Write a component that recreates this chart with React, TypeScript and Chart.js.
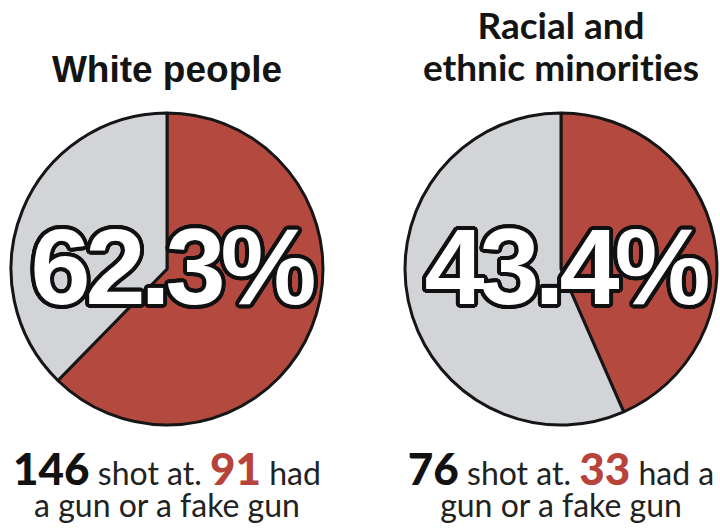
import React, { useEffect, useRef } from 'react';
import { Chart, registerables } from 'chart.js';

Chart.register(...registerables);

// ---- data ----
const groupTitles = ['White people', 'Racial and\nethnic minorities'];
const shotAt = [146, 76];
const hadGun = [91, 33];
const noGun = [55, 43];
const percentLabels = ['62.3%', '43.4%'];
const sliceLabels = ['Had a gun or a fake gun', 'Did not'];
const tailText = ['had', 'had a'];
const secondLine = ['a gun or a fake gun', 'gun or a fake gun'];

// ---- styles ----
const sliceColors = ['#b3493f', '#d3d4d8'];
const RED_TEXT = '#b8433a';
const CANVAS = 320;
const RADIUS = 156;
const centersX = [167, 561];
const centerY = 269;

function outline(r: number, color: string): string {
  const parts: string[] = [];
  const n = 24;
  for (let i = 0; i < n; i++) {
    const a = (i / n) * Math.PI * 2;
    parts.push(`${(Math.cos(a) * r).toFixed(2)}px ${(Math.sin(a) * r).toFixed(2)}px 0 ${color}`);
  }
  return parts.join(',');
}

function Pie({ idx }: { idx: number }) {
  const ref = useRef<HTMLCanvasElement>(null);
  useEffect(() => {
    const chart = new Chart(ref.current as HTMLCanvasElement, {
      type: 'pie',
      data: {
        labels: sliceLabels,
        datasets: [
          {
            data: [hadGun[idx], noGun[idx]],
            backgroundColor: sliceColors,
            borderColor: '#161616',
            borderWidth: 3,
            radius: RADIUS,
          } as any,
        ],
      },
      options: {
        responsive: false,
        animation: false,
        layout: { padding: 0 },
        plugins: { legend: { display: false }, tooltip: { enabled: false } },
      },
    });
    return () => chart.destroy();
  }, [idx]);
  return (
    <canvas
      ref={ref}
      width={CANVAS}
      height={CANVAS}
      style={{
        position: 'absolute',
        left: centersX[idx] - CANVAS / 2,
        top: centerY - CANVAS / 2,
        width: CANVAS,
        height: CANVAS,
      }}
    />
  );
}

export default function App() {
  const pctShadow = outline(4, '#111');
  return (
    <div
      style={{
        position: 'fixed',
        left: 0,
        top: 0,
        width: 720,
        height: 529,
        overflow: 'hidden',
        background: '#ffffff',
        fontVariantLigatures: 'none',
        fontFeatureSettings: '"liga" 0, "clig" 0',
      }}
    >
      {/* titles */}
      <div
        style={{
          position: 'absolute',
          left: centersX[0] - 180,
          width: 360,
          top: 51,
          textAlign: 'center',
          font: 'bold 37px "Liberation Sans", Arial, sans-serif',
          lineHeight: 1,
          color: '#141414',
          whiteSpace: 'nowrap',
        }}
      >
        {groupTitles[0]}
      </div>
      <div
        style={{
          position: 'absolute',
          left: centersX[1] - 180,
          width: 360,
          top: 4,
          textAlign: 'center',
          font: 'bold 37px Lato, sans-serif',
          lineHeight: '42px',
          color: '#141414',
          whiteSpace: 'pre',
          fontVariantLigatures: 'none',
          fontFeatureSettings: '"liga" 0, "clig" 0',
        }}
      >
        {groupTitles[1]}
      </div>

      {[0, 1].map((i) => (
        <Pie key={i} idx={i} />
      ))}

      {/* percent labels */}
      {[0, 1].map((i) => (
        <div
          key={'p' + i}
          style={{
            position: 'absolute',
            left: centersX[i] - 200 + 4,
            width: 400,
            top: 213,
            textAlign: 'center',
            font: 'bold 108px "Liberation Sans", Arial, sans-serif',
            lineHeight: 1,
            letterSpacing: '-5px',
            color: '#ffffff',
            textShadow: pctShadow,
            whiteSpace: 'nowrap',
          }}
        >
          {percentLabels[i]}
        </div>
      ))}

      {/* captions */}
      {[0, 1].map((i) => (
        <div key={'c' + i}>
          <div
            style={{
              position: 'absolute',
              left: centersX[i] - 180,
              width: 360,
              top: 446,
              textAlign: 'center',
              font: '32px Lato, sans-serif',
              lineHeight: '44px',
              color: '#222',
              whiteSpace: 'nowrap',
              fontVariantLigatures: 'none',
            }}
          >
            <span style={{ fontSize: 44, fontWeight: 900, color: '#111' }}>{shotAt[i]}</span>
            {' shot at. '}
            <span style={{ fontSize: 44, fontWeight: 900, color: RED_TEXT }}>{hadGun[i]}</span>
            {' ' + tailText[i]}
          </div>
          <div
            style={{
              position: 'absolute',
              left: centersX[i] - 180,
              width: 360,
              top: 483,
              textAlign: 'center',
              font: '32px Lato, sans-serif',
              lineHeight: '44px',
              color: '#222',
              whiteSpace: 'nowrap',
              fontVariantLigatures: 'none',
            }}
          >
            {secondLine[i]}
          </div>
        </div>
      ))}
    </div>
  );
}
